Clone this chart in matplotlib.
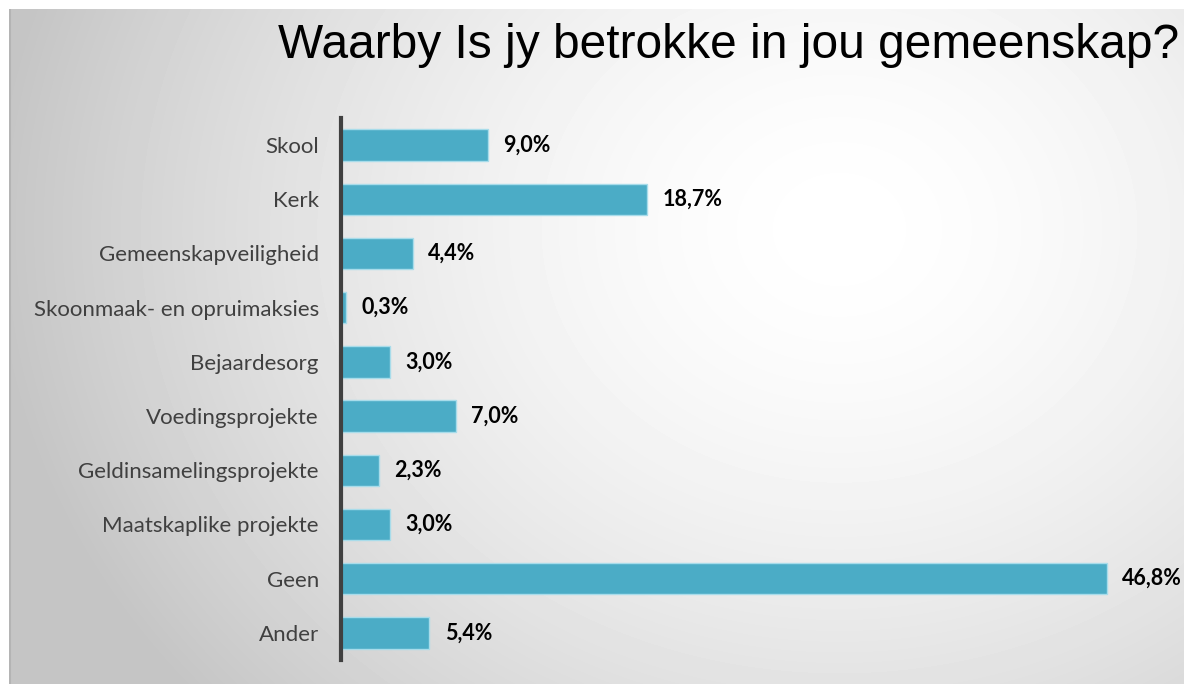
import numpy as np
from matplotlib import pyplot as plt

categories = ['Skool', 'Kerk', 'Gemeenskapveiligheid', 'Skoonmaak- en opruimaksies',
              'Bejaardesorg', 'Voedingsprojekte', 'Geldinsamelingsprojekte',
              'Maatskaplike projekte', 'Geen', 'Ander']
values = [9.0, 18.7, 4.4, 0.3, 3.0, 7.0, 2.3, 3.0, 46.8, 5.4]
title = 'Waarby Is jy betrokke in jou gemeenskap?'

W, H = 1184, 684
fig = plt.figure(figsize=(W / 100, H / 100), dpi=100)
fig.patch.set_facecolor('white')

# radial grey background panel
bg = fig.add_axes([9 / W, 0, 1 - 9 / W, 1 - 9 / H])
yy, xx = np.mgrid[0:H - 9, 0:W - 9]
d = np.hypot((xx - 830) / 1.0, (yy - 220) / 0.85)
g = 1.0 - 0.23 * np.clip(d / 850, 0, 1) ** 1.6
bg.imshow(g, cmap='gray', vmin=0, vmax=1, aspect='auto', interpolation='bilinear')
bg.axvline(0, color='#b4b4b4', lw=1.5)
bg.set_axis_off()

ax = fig.add_axes([341 / W, (H - 660) / H, (1140 - 341) / W, (660 - 118) / H])
ax.set_facecolor('none')
y = np.arange(len(categories))
ax.barh(y, values, height=0.58, color='#4bacc6', edgecolor='#a8dcea', linewidth=1)
ax.set_ylim(len(categories) - 0.5, -0.5)
ax.set_xlim(0, (1140 - 341) / 16.37)
ax.set_yticks(y)
ax.set_yticklabels(categories, family='Lato', fontsize=16, color='#404040')
ax.tick_params(axis='y', length=0, pad=16)
ax.set_xticks([])
for s in ['top', 'right', 'bottom']:
    ax.spines[s].set_visible(False)
ax.spines['left'].set_color('#404040')
ax.spines['left'].set_linewidth(3)

for yi, v in zip(y, values):
    ax.annotate(f'{v:.1f}%'.replace('.', ','), (v, yi), xytext=(11, 0),
                textcoords='offset points', va='center', ha='left',
                family='Lato', fontweight='bold', fontsize=15.5, color='black')

fig.text(729 / W, 1 - 46 / H, title, ha='center', va='center',
         family='Liberation Sans', fontsize=34.5, color='black')

fig.savefig('out.png', dpi=100)
